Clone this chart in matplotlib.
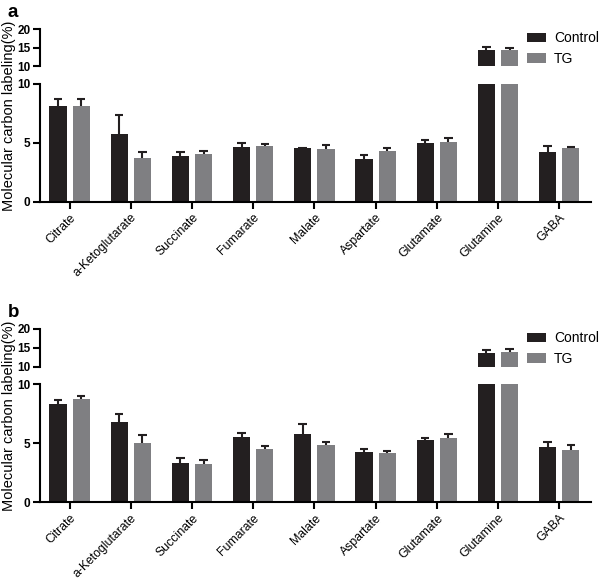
import matplotlib
matplotlib.use('Agg')
import matplotlib.pyplot as plt
from matplotlib.patches import Patch
import numpy as np

plt.rcParams['font.family'] = ['Liberation Sans', 'DejaVu Sans']

categories = ['Citrate', 'a-Ketoglutarate', 'Succinate', 'Fumarate', 'Malate',
              'Aspartate', 'Glutamate', 'Glutamine', 'GABA']

# panel a
a_control = [8.1, 5.78, 3.86, 4.67, 4.55, 3.6, 4.99, 14.3, 4.2]
a_control_err = [0.65, 1.59, 0.39, 0.34, 0.05, 0.34, 0.25, 0.8, 0.56]
a_tg = [8.13, 3.71, 4.05, 4.73, 4.5, 4.28, 5.05, 14.3, 4.59]
a_tg_err = [0.59, 0.49, 0.28, 0.15, 0.34, 0.31, 0.39, 0.6, 0.08]

# panel b
b_control = [8.3, 6.8, 3.33, 5.5, 5.81, 4.29, 5.28, 13.7, 4.66]
b_control_err = [0.34, 0.68, 0.4, 0.4, 0.85, 0.2, 0.19, 0.7, 0.48]
b_tg = [8.73, 5.05, 3.22, 4.49, 4.83, 4.15, 5.42, 13.9, 4.46]
b_tg_err = [0.3, 0.68, 0.36, 0.31, 0.25, 0.22, 0.37, 0.8, 0.42]

c_black = '#231f20'
c_gray = '#7f7f82'

fig = plt.figure(figsize=(6, 5.8), dpi=100)
x = np.arange(len(categories))
off = 0.19
w = 0.28


def draw_bars(ax, control, cerr, tg, terr):
    ax.bar(x - off, control, w, color=c_black, linewidth=0)
    ax.bar(x + off, tg, w, color=c_gray, linewidth=0)
    for xs, vals, errs in [(x - off, control, cerr), (x + off, tg, terr)]:
        tops = np.array(vals) + np.array(errs)
        ax.vlines(xs, vals, tops, color=c_black, lw=1.5, zorder=3)
        ax.hlines(tops, xs - 0.07, xs + 0.07, color=c_black, lw=1.5, zorder=3)


def panel(letter, low_rect, up_rect, control, cerr, tg, terr):
    ax = fig.add_axes(low_rect)
    au = fig.add_axes(up_rect)
    for a in (ax, au):
        draw_bars(a, control, cerr, tg, terr)
        a.set_xlim(-0.49, 8.52)
        a.spines['top'].set_visible(False)
        a.spines['right'].set_visible(False)
        a.spines['left'].set_linewidth(1.5)
        a.spines['bottom'].set_linewidth(1.5)
        a.tick_params(axis='y', length=5, width=1.5, labelsize=8.5, pad=1.5)
    ax.set_ylim(0, 10)
    ax.set_yticks([0, 5, 10])
    ax.set_yticklabels(['0', '5', '10'], fontweight='bold')
    ax.set_xticks(x)
    ax.set_xticklabels(categories, rotation=45, ha='right', rotation_mode='anchor', fontsize=8.8)
    ax.tick_params(axis='x', length=5, width=1.5, pad=2)
    au.set_ylim(10, 20)
    au.set_yticks([10, 15, 20])
    au.set_yticklabels(['10', '15', '20'], fontweight='bold')
    au.spines['bottom'].set_visible(False)
    au.set_xticks([])
    au.patch.set_alpha(0)
    handles = [Patch(facecolor=c_black, label='Control'), Patch(facecolor=c_gray, label='TG')]
    top = up_rect[1] + up_rect[3]
    au.legend(handles=handles, loc='upper left', bbox_to_anchor=(0.878, top - 0.004),
              bbox_transform=fig.transFigure, frameon=False, fontsize=10,
              handlelength=1.4, handleheight=0.7, borderpad=0, borderaxespad=0,
              handletextpad=0.55, labelspacing=0.45)
    fig.text(0.013, top + 0.028, letter, fontsize=13.5, fontweight='bold', va='center')
    ymid = (low_rect[1] + top) / 2
    fig.text(0.015, ymid, 'Molecular carbon labeling(%)', rotation=90, fontsize=10.5,
             va='center', ha='center')


panel('a', [0.066, 0.652, 0.919, 0.2034], [0.066, 0.886, 0.919, 0.0638],
      a_control, a_control_err, a_tg, a_tg_err)
panel('b', [0.066, 0.134, 0.919, 0.2034], [0.066, 0.3678, 0.919, 0.065],
      b_control, b_control_err, b_tg, b_tg_err)

fig.savefig('out.png', dpi=100)
